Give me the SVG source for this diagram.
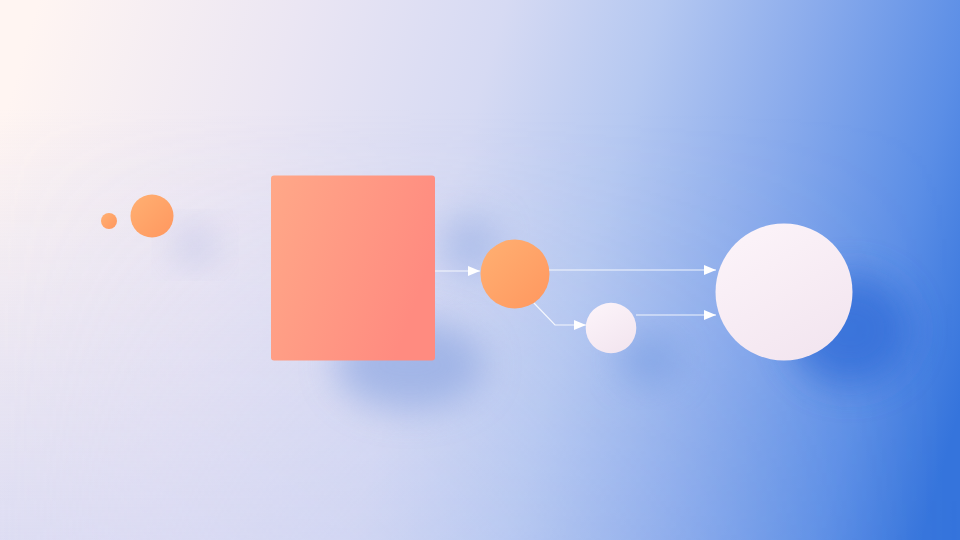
<svg xmlns="http://www.w3.org/2000/svg" width="960" height="540" viewBox="0 0 960 540">
<defs>
<linearGradient id="bg" gradientUnits="userSpaceOnUse" x1="0" y1="130" x2="960" y2="410">
<stop offset="0" stop-color="#fff5f2"/>
<stop offset="0.25" stop-color="#ebe6f3"/>
<stop offset="0.45" stop-color="#d6daf3"/>
<stop offset="0.6" stop-color="#b5c8f1"/>
<stop offset="0.75" stop-color="#8aabec"/>
<stop offset="0.9" stop-color="#5b8ee6"/>
<stop offset="1" stop-color="#3574dc"/>
</linearGradient>
<linearGradient id="veil" x1="0" y1="0" x2="0" y2="1">
<stop offset="0.2" stop-color="#c9cff3" stop-opacity="0"/>
<stop offset="1" stop-color="#c9cff3" stop-opacity="0.55"/>
</linearGradient>
<linearGradient id="veilMask" x1="0" y1="0" x2="1" y2="0">
<stop offset="0" stop-color="#fff" stop-opacity="1"/>
<stop offset="0.6" stop-color="#fff" stop-opacity="0.3"/>
<stop offset="1" stop-color="#fff" stop-opacity="0"/>
</linearGradient>
<mask id="vm"><rect x="0" y="0" width="960" height="540" fill="url(#veilMask)"/></mask>
<linearGradient id="rectG" x1="0" y1="0" x2="1" y2="0.4">
<stop offset="0" stop-color="#ffa888"/>
<stop offset="1" stop-color="#ff8b80"/>
</linearGradient>
<linearGradient id="orG" x1="0" y1="0" x2="1" y2="1">
<stop offset="0" stop-color="#ffb072"/>
<stop offset="1" stop-color="#ff975f"/>
</linearGradient>
<linearGradient id="whG" x1="0" y1="0" x2="0.6" y2="1">
<stop offset="0" stop-color="#fdf5fa"/>
<stop offset="1" stop-color="#f3e6f0"/>
</linearGradient>
<filter id="blur" x="-50%" y="-50%" width="200%" height="200%">
<feGaussianBlur stdDeviation="18"/>
</filter>
<marker id="arr" viewBox="0 0 12 10" refX="12" refY="5" markerWidth="12" markerHeight="10" markerUnits="userSpaceOnUse" orient="auto">
<path d="M0,0 L12,5 L0,10 Z" fill="#ffffff"/>
</marker>
<style>
.conn{fill:none;stroke:#ffffff;stroke-opacity:0.85;stroke-width:1.2;}
.shadow{filter:url(#blur);}
</style>
</defs>
<rect x="0" y="0" width="960" height="540" fill="url(#bg)"/>
<rect x="0" y="0" width="960" height="540" fill="url(#veil)" mask="url(#vm)"/>
<g id="shadows">
<ellipse class="shadow" cx="195" cy="245" rx="22" ry="18" fill="#b8bde6" opacity="0.6"/>
<ellipse class="shadow" cx="410" cy="365" rx="75" ry="45" fill="#8fa8e2" opacity="0.7"/>
<ellipse class="shadow" cx="470" cy="245" rx="30" ry="30" fill="#8fa8e2" opacity="0.5"/>
<ellipse class="shadow" cx="650" cy="360" rx="30" ry="25" fill="#6f97e0" opacity="0.55"/>
<ellipse class="shadow" cx="850" cy="330" rx="60" ry="55" fill="#2c68d6" opacity="0.7"/>
</g>
<g id="connectors">
<line class="conn" x1="435" y1="271" x2="480" y2="271" marker-end="url(#arr)"/>
<line class="conn" x1="549" y1="270" x2="716" y2="270" marker-end="url(#arr)"/>
<polyline class="conn" points="533,302 555,325 586,325" marker-end="url(#arr)"/>
<line class="conn" x1="636" y1="315" x2="716" y2="315" marker-end="url(#arr)"/>
</g>
<g id="dot-small"><circle cx="109" cy="221" r="8" fill="url(#orG)"/></g>
<g id="dot-orange"><circle cx="152" cy="216" r="21.5" fill="url(#orG)"/></g>
<g id="block"><rect x="271" y="175.5" width="164" height="185" rx="3" fill="url(#rectG)"/></g>
<g id="node-orange"><circle cx="515" cy="274" r="34.5" fill="url(#orG)"/></g>
<g id="node-white-small"><circle cx="611" cy="328" r="25.3" fill="url(#whG)"/></g>
<g id="node-white-large"><circle cx="784" cy="292" r="68.5" fill="url(#whG)"/></g>
</svg>
